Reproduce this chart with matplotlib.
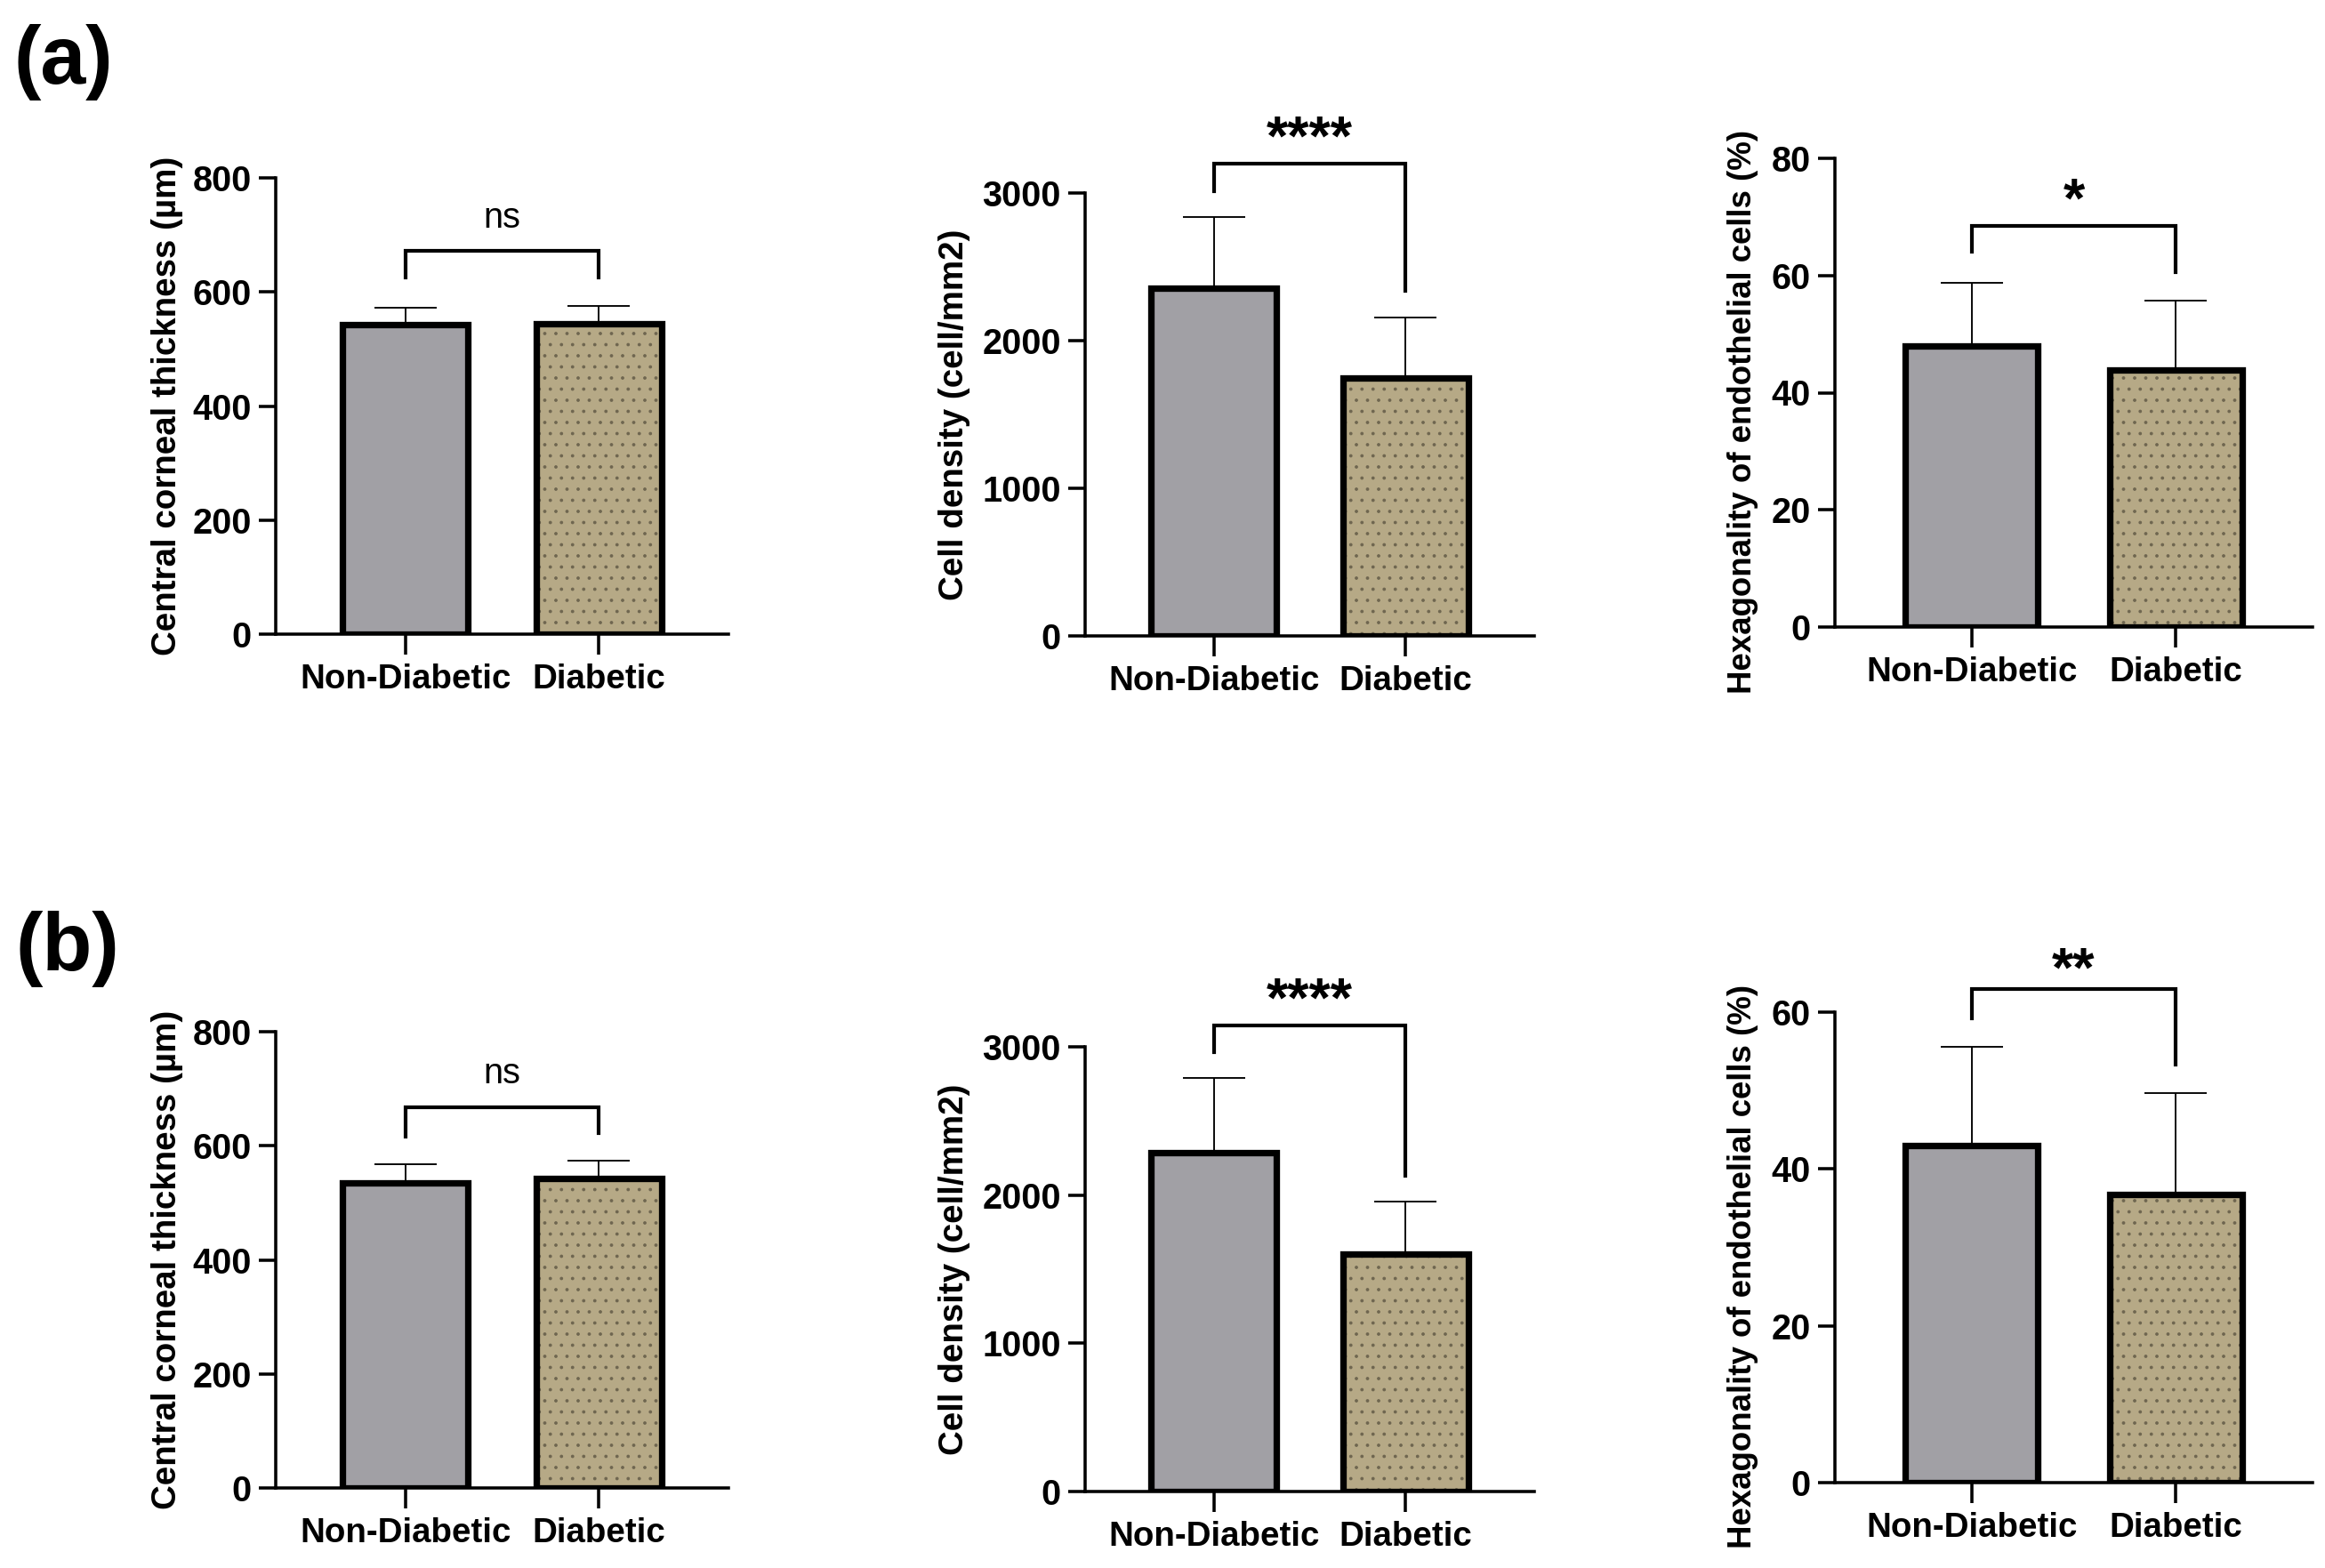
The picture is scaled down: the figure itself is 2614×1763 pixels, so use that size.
import matplotlib
matplotlib.use("Agg")
import matplotlib.pyplot as plt
from matplotlib.transforms import offset_copy

plt.rcParams['font.family'] = ['Liberation Sans', 'DejaVu Sans']
plt.rcParams['hatch.linewidth'] = 0.6

# ---------------- data ----------------
categories = ["Non-Diabetic", "Diabetic"]

a_cct_mean = [543, 545]
a_cct_sd = [30, 31]
a_ecd_mean = [2354, 1745]
a_ecd_sd = [486, 414]
a_hex_mean = [48.0, 43.8]
a_hex_sd = [10.7, 11.9]

b_cct_mean = [535, 542]
b_cct_sd = [32, 32]
b_ecd_mean = [2286, 1600]
b_ecd_sd = [502, 356]
b_hex_mean = [43.0, 36.8]
b_hex_sd = [12.6, 12.9]

cct_ticks = [0, 200, 400, 600, 800]
ecd_ticks = [0, 1000, 2000, 3000]
hex_ticks_a = [0, 20, 40, 60, 80]
hex_ticks_b = [0, 20, 40, 60]

ylabels = ["Central corneal thickness (\u00b5m)",
           "Cell density (cell/mm2)",
           "Hexagonality of endothelial cells (%)"]

sig_labels = ["ns", "****", "*", "ns", "****", "**"]
sig_label_y = [730, 3415, 74.0, 726, 3360, 66.3]
bracket_y = [672, 3200, 68.5, 668, 3146, 62.9]
bracket_legs = [[625, 625], [3013, 2338], [64.1, 60.5],
                [616, 622], [2964, 2132], [59.2, 53.3]]

panel_letters = ["(a)", "(b)"]

# ---------------- style ----------------
W, H = 2614, 1763
DPI = 150
fig = plt.figure(figsize=(W / DPI, H / DPI), dpi=DPI)
fig.patch.set_facecolor("white")

col_nd = "#a1a0a5"
col_d = "#b6a986"
col_dots = "#6f6650"

# panel pixel boxes: (left, right, y_zero, y_top)
boxes = [
    (310, 819, 713, 200),
    (1220, 1725, 715, 217),
    (2063, 2600, 705, 178),
    (310, 819, 1673, 1160),
    (1220, 1725, 1677, 1177),
    (2063, 2600, 1667, 1138),
]
label_x = [-0.205, -0.255, -0.16, -0.205, -0.255, -0.16]
label_yc = [0.5, 0.5, 0.46, 0.5, 0.5, 0.46]
label_size = [18.5, 18.5, 17.6, 18.5, 18.5, 17.6]

means = [a_cct_mean, a_ecd_mean, a_hex_mean, b_cct_mean, b_ecd_mean, b_hex_mean]
sds = [a_cct_sd, a_ecd_sd, a_hex_sd, b_cct_sd, b_ecd_sd, b_hex_sd]
ticks = [cct_ticks, ecd_ticks, hex_ticks_a, cct_ticks, ecd_ticks, hex_ticks_b]

xpos = list(range(len(categories)))
bw = 0.65
star_size = 30

for i in range(6):
    l, r, y0, yt = boxes[i]
    ax = fig.add_axes([l / W, 1 - y0 / H, (r - l) / W, (y0 - yt) / H])
    m = means[i]
    s = sds[i]
    # error bars (upper only)
    ax.errorbar(xpos, m, yerr=[[0] * len(m), s], fmt="none", ecolor="black",
                elinewidth=0.9, capsize=17, capthick=0.9, zorder=1)
    # fills
    ax.bar(xpos[0], m[0], width=bw, color=col_nd, linewidth=0, zorder=2)
    ax.bar(xpos[1], m[1], width=bw, color=col_d, edgecolor=col_dots,
           hatch="..", linewidth=0, zorder=2)
    # outlines
    ax.bar(xpos, m, width=bw, facecolor="none", edgecolor="black",
           linewidth=3.5, zorder=3)

    ax.set_xlim(-0.67, 1.67)
    ax.set_ylim(0, ticks[i][-1])
    ax.set_yticks(ticks[i])
    ax.set_yticklabels([str(t) for t in ticks[i]])
    ax.set_xticks(xpos)
    ax.set_xticklabels(categories)

    for sp in ["top", "right"]:
        ax.spines[sp].set_visible(False)
    for sp in ["left", "bottom"]:
        ax.spines[sp].set_linewidth(1.7)
    ax.tick_params(axis="y", length=9, width=1.7, pad=4, labelsize=19)
    ax.tick_params(axis="x", length=11, width=1.7, pad=5, labelsize=18.5)
    for lab in ax.get_xticklabels() + ax.get_yticklabels():
        lab.set_fontweight("bold")

    ax.set_ylabel(ylabels[i % 3], fontsize=label_size[i], fontweight="bold")
    ax.yaxis.set_label_coords(label_x[i], label_yc[i])

    # significance bracket
    by = bracket_y[i]
    legs = bracket_legs[i]
    ax.plot([xpos[0], xpos[0], xpos[1], xpos[1]],
            [legs[0], by, by, legs[1]], color="black", lw=2.0,
            clip_on=False, solid_joinstyle="miter", zorder=4)
    lab = sig_labels[i]
    if lab == "ns":
        ax.text(0.5, sig_label_y[i], lab, ha="center", va="center",
                fontsize=19, clip_on=False)
    else:
        tr = offset_copy(ax.transData, fig=fig, x=0, y=-0.41 * star_size,
                         units="points")
        ax.text(0.5, sig_label_y[i], lab, ha="center", va="baseline",
                fontsize=star_size, fontweight="bold", clip_on=False,
                transform=tr)

fig.text(15 / W, 1 - 70 / H, panel_letters[0], fontsize=44, fontweight="bold",
         ha="left", va="center")
fig.text(18 / W, 1 - 1067 / H, panel_letters[1], fontsize=44, fontweight="bold",
         ha="left", va="center")

fig.savefig("out.png", dpi=DPI, facecolor="white")
